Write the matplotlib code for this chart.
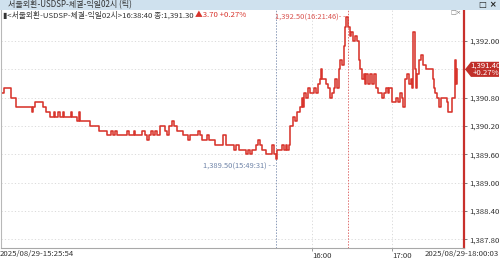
#!/usr/bin/env python3
"""Seoul FX USD/KRW tick chart, 2025-08-29 night session"""

import matplotlib
matplotlib.use('Agg')
import matplotlib.pyplot as plt
from matplotlib.patches import Rectangle, Polygon
import matplotlib.transforms as mtransforms

plt.rcParams['font.family'] = ['Noto Sans CJK KR', 'DejaVu Sans']

# tick index (one unit per trade tick) and traded price
tick_idx = [0, 8, 30, 45, 92, 95, 102, 125, 135, 148, 158, 163, 172, 176, 185, 190,
            210, 214, 228, 235, 238, 268, 296, 318, 330, 336, 342, 348, 380, 384, 400,
            404, 424, 432, 440, 444, 450, 456, 462, 470, 478, 492, 500, 506, 514, 520,
            530, 548, 562, 568, 580, 592, 598, 604, 620, 626, 642, 664, 668, 676, 700,
            708, 716, 738, 744, 750, 756, 766, 772, 780, 786, 796, 816, 820, 826, 830,
            845, 850, 856, 860, 866, 870, 878, 884, 890, 898, 904, 908, 912, 918, 924,
            930, 936, 940, 946, 952, 958, 962, 966, 972, 978, 984, 990, 996, 1000, 1004,
            1010, 1016, 1020, 1026, 1030, 1034, 1038, 1044, 1048, 1052, 1058, 1064, 1070,
            1076, 1080, 1086, 1090, 1094, 1098, 1104, 1110, 1116, 1120, 1126, 1134, 1144,
            1152, 1158, 1164, 1168, 1176, 1188, 1194, 1200, 1206, 1210, 1214, 1220, 1226,
            1232, 1236, 1240, 1244, 1248, 1252, 1258, 1264, 1270, 1278, 1292, 1298, 1302,
            1306, 1312, 1318, 1322, 1340, 1344, 1356, 1362, 1364, 1367, 1370, 1372]
price = [1390.9, 1391.0, 1390.8, 1390.6, 1390.5, 1390.6, 1390.7, 1390.6, 1390.5, 1390.4,
         1390.5, 1390.4, 1390.5, 1390.4, 1390.5, 1390.4, 1390.5, 1390.4, 1390.3, 1390.5,
         1390.3, 1390.2, 1390.1, 1390.0, 1390.1, 1390.0, 1390.1, 1390.0, 1390.1, 1390.0,
         1390.1, 1390.0, 1390.1, 1390.0, 1389.9, 1390.0, 1390.1, 1390.0, 1390.1, 1390.0,
         1390.2, 1390.1, 1390.0, 1390.2, 1390.3, 1390.2, 1390.1, 1390.0, 1389.9, 1390.0,
         1390.0, 1390.1, 1390.0, 1389.9, 1390.0, 1389.9, 1389.8, 1389.8, 1390.0, 1389.8,
         1389.7, 1389.8, 1389.7, 1389.6, 1389.7, 1389.6, 1389.7, 1389.8, 1389.9, 1389.8,
         1389.7, 1389.6, 1389.8, 1389.6, 1389.5, 1389.7, 1389.8, 1389.7, 1389.8, 1389.7,
         1389.8, 1390.2, 1390.4, 1390.3, 1390.5, 1390.6, 1390.8, 1390.6, 1390.9, 1390.8,
         1391.0, 1390.9, 1390.9, 1391.0, 1390.9, 1391.1, 1391.2, 1391.4, 1391.2, 1391.2,
         1391.1, 1391.0, 1390.8, 1390.9, 1391.0, 1391.2, 1391.0, 1391.4, 1391.6, 1391.5,
         1391.9, 1392.3, 1392.5, 1392.3, 1392.1, 1392.2, 1392.0, 1392.1, 1392.0, 1391.6,
         1391.4, 1391.2, 1391.3, 1391.1, 1391.3, 1391.1, 1391.3, 1391.1, 1391.3, 1391.0,
         1390.9, 1390.8, 1390.9, 1391.0, 1390.9, 1391.0, 1390.7, 1390.8, 1390.7, 1390.9,
         1390.8, 1390.6, 1391.2, 1391.3, 1391.1, 1391.2, 1391.0, 1392.2, 1391.4, 1391.0,
         1391.3, 1391.6, 1391.7, 1391.5, 1391.4, 1391.4, 1391.2, 1391.0, 1390.9, 1390.8,
         1390.6, 1390.8, 1390.7, 1390.5, 1390.8, 1390.8, 1391.6, 1391.1, 1391.4, 1391.4]

y_ticks = [1387.8, 1388.4, 1389.0, 1389.6, 1390.2, 1390.8, 1391.4, 1392.0]
x_tick_pos = [935, 1175]
x_tick_labels = ['16:00', '17:00']
start_label = '2025/08/29-15:25:54'
end_label = '2025/08/29-18:00:03'

hi_idx, hi_price, hi_label = 1038, 1392.5, '1,392.50(16:21:46)- -'
lo_idx, lo_price, lo_label = 826, 1389.5, '1,389.50(15:49:31) - -'
last_price, last_chg = 1391.4, '+0.27%'

title = '서울외환-USDSP-체결-익일02시 (틱)'
legend_main = '▮<서울외환-USDSP-체결-익일02시>16:38:40 종:1,391.30 '
legend_chg = '▲3.70 +0.27%'

RED = '#d8342c'
W, H = 500, 260
fig = plt.figure(figsize=(W / 100, H / 100), dpi=100)

# title bar
fig.patches.append(Rectangle((0, (H - 10) / H), 1, 10 / H, transform=fig.transFigure,
                             facecolor='#cfe1ee', edgecolor='none'))
fig.text(8 / W, 1 - 5 / H, title, fontsize=5.8, color='#333333', va='center', ha='left')
fig.text(497 / W, 1 - 5 / H, '□ ×', fontsize=6, color='#222222', va='center', ha='right',
         family='DejaVu Sans', weight='bold')

# plot area in pixels: x 1..464, y 10..248
ax = fig.add_axes([1 / W, (H - 248) / H, 463 / W, 238 / H])
ax.plot(tick_idx, price, color=RED, linewidth=1.15, drawstyle='steps-post')

ax.set_xlim(0, 1392)
ax.set_ylim(1387.616, 1392.657)

ax.spines['top'].set_visible(False)
ax.spines['left'].set_color('#b8b8b8')
ax.spines['bottom'].set_color('#a8a8a8')
ax.spines['right'].set_color('#c8302c')
ax.spines['right'].set_linewidth(1.6)

ax.yaxis.tick_right()
ax.set_yticks(y_ticks)
ax.set_yticklabels(['' if v == last_price else f'{v:,.2f}' for v in y_ticks])
ax.tick_params(axis='y', labelsize=5.6, labelcolor='#333333', color='#666666',
               length=2, width=0.6, pad=1.5)
ax.set_xticks(x_tick_pos)
ax.set_xticklabels(x_tick_labels)
ax.tick_params(axis='x', labelsize=5.6, labelcolor='#333333', color='#888888',
               length=2, width=0.6, pad=1)
for lbl in ax.get_xticklabels():
    lbl.set_horizontalalignment('left')

for v in y_ticks:
    ax.axhline(v, color='#d6d6d6', linewidth=0.6, linestyle=(0, (1.5, 2.5)), zorder=0)
for v in x_tick_pos:
    ax.axvline(v, color='#d6d6d6', linewidth=0.6, linestyle=(0, (1.5, 2.5)), zorder=0)
ax.axvline(lo_idx + 2, color='#8a9ab8', linewidth=0.7, linestyle=(0, (1.5, 1.5)), zorder=1)
ax.axvline(hi_idx + 5, color='#e07070', linewidth=0.7, linestyle=(0, (1.5, 1.5)), zorder=1)

ax.text(hi_idx - 3, hi_price, hi_label, fontsize=5.4, color='#d9534f',
        ha='right', va='center')
ax.text(lo_idx - 2, lo_price - 0.17, lo_label, fontsize=5.4, color='#6f84a8',
        ha='right', va='center')

# last price tag on the right axis
tr = mtransforms.blended_transform_factory(ax.transAxes, ax.transData)
x0 = 1.0 + 1 / 463
x1 = 1.0 + 7 / 463
x2 = 1.0 + 35 / 463
dy = 0.16
tag = Polygon([(x0, last_price), (x1, last_price + dy), (x2, last_price + dy),
               (x2, last_price - dy), (x1, last_price - dy)], closed=True,
              transform=tr, facecolor='#c0302a', edgecolor='none', clip_on=False, zorder=5)
ax.add_patch(tag)
ax.text((x1 + x2) / 2 + 0.002, last_price + 0.07, f'{last_price:,.2f}', transform=tr,
        fontsize=5.6, color='white', ha='center', va='center', clip_on=False, zorder=6)
ax.text((x1 + x2) / 2 + 0.002, last_price - 0.08, last_chg, transform=tr,
        fontsize=5.6, color='white', ha='center', va='center', clip_on=False, zorder=6)

# legend line and small window icons
t1 = fig.text(3 / W, 1 - 15 / H, legend_main, fontsize=5.6, color='#333333',
              va='center', ha='left')
ax.annotate(legend_chg, xy=(1, 0.5), xycoords=t1, va='center', ha='left',
            fontsize=5.6, color=RED)
fig.text(462 / W, 1 - 13 / H, '□×', fontsize=4.5, color='#777777', va='center',
         ha='right', family='DejaVu Sans')

# time range labels
fig.text(0 / W, 1 - 254 / H, start_label, fontsize=5.6, color='#333333',
         va='center', ha='left')
fig.text(499 / W, 1 - 254 / H, end_label, fontsize=5.6, color='#333333',
         va='center', ha='right')

fig.savefig('out.png', dpi=100, facecolor='white')
